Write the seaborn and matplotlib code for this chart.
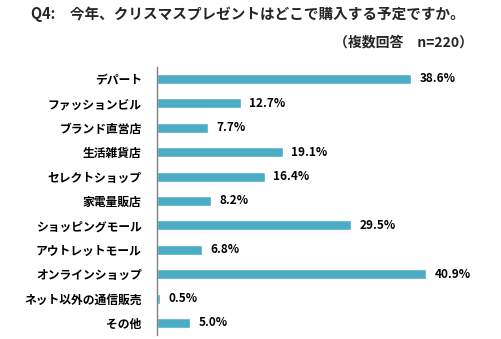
import matplotlib
matplotlib.use("Agg")
import matplotlib.pyplot as plt
import seaborn as sns
import pandas as pd

categories = ["デパート", "ファッションビル", "ブランド直営店", "生活雑貨店", "セレクトショップ",
              "家電量販店", "ショッピングモール", "アウトレットモール", "オンラインショップ",
              "ネット以外の通信販売", "その他"]
values = [38.6, 12.7, 7.7, 19.1, 16.4, 8.2, 29.5, 6.8, 40.9, 0.5, 5.0]
value_labels = ["38.6%", "12.7%", "7.7%", "19.1%", "16.4%", "8.2%", "29.5%", "6.8%", "40.9%", "0.5%", "5.0%"]
title = "Q4:　今年、クリスマスプレゼントはどこで購入する予定ですか。"
subtitle = "（複数回答　n=220）"

sns.set_theme(style="white")
plt.rcParams['font.family'] = ['Noto Sans CJK JP', 'DejaVu Sans']

df = pd.DataFrame({"cat": categories, "val": values})

fig = plt.figure(figsize=(5.02, 3.39), dpi=100)
ax = fig.add_axes([157/502, 1-335.2/339, 325/502, (335.2-66.8)/339])
sns.barplot(data=df, x="val", y="cat", orient="h", color="#4BACC6", saturation=1,
            width=0.41, ax=ax)
ax.set_xlim(0, 49.4)
ax.set_ylim(10.5, -0.5)
ax.set_xlabel("")
ax.set_ylabel("")
ax.set_xticks([])
for s in ["top", "right", "bottom"]:
    ax.spines[s].set_visible(False)
ax.spines["left"].set_color("#808080")
ax.spines["left"].set_linewidth(1.0)
ax.tick_params(axis="y", length=0, pad=11)
for lab in ax.get_yticklabels():
    lab.set_fontsize(8.5)
    lab.set_fontweight("bold")
    lab.set_color("#000000")

for i, (v, t) in enumerate(zip(values, value_labels)):
    ax.annotate(t, xy=(v, i), xytext=(6, 0), textcoords="offset points",
                va="center", ha="left", fontsize=8.5, fontweight="bold", color="#000000")

fig.text(0.5 - 3/502, 1-14/339, title, ha="center", va="center", fontsize=10.5, fontweight="bold")
fig.text(473/502, 1-42/339, subtitle, ha="right", va="center", fontsize=10, fontweight="bold")

fig.savefig("out.png", dpi=100)
